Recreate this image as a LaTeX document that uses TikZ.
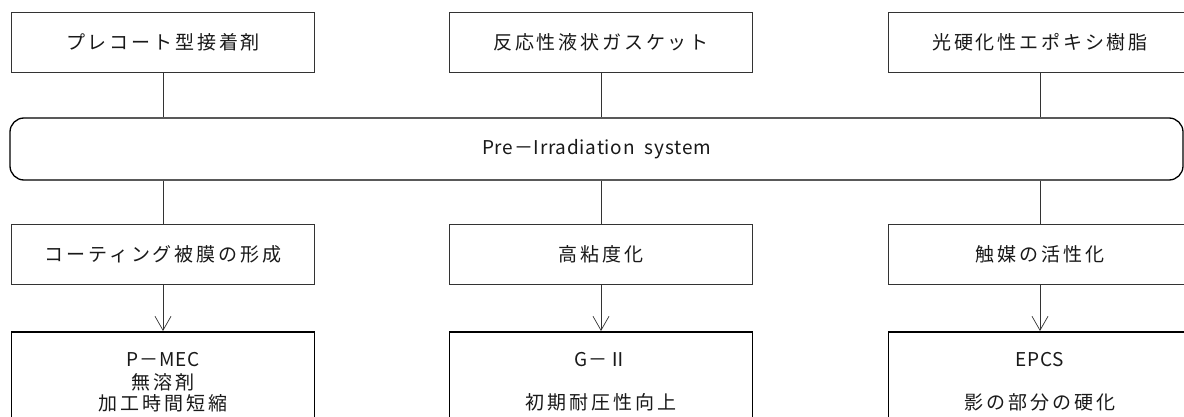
\documentclass[tikz,border=0pt]{standalone}
\usepackage{fontspec}
\newfontfamily\jpfont[LetterSpace=15]{Noto Sans CJK JP}
\newfontfamily\enfont[LetterSpace=4]{Noto Sans CJK JP}
\usetikzlibrary{arrows.meta}

\begin{document}
\begin{tikzpicture}[x=1pt,y=-1pt,
		every node/.style={text=black!90},
		stepbox/.style={draw=black!80, line width=0.7pt, minimum width=303pt, minimum height=60pt, inner sep=0pt, font=\jpfont\fontsize{19}{22}\selectfont},
		sysbox/.style={draw, line width=1.3pt, rounded corners=14pt, minimum width=1173pt, minimum height=62pt, font=\enfont\fontsize{19}{22}\selectfont},
		result/.style={draw, line width=1.7pt, minimum width=303pt, minimum height=100pt, anchor=north, align=center, font=\jpfont\fontsize{19}{22}\selectfont},
		link/.style={draw=black!80, line width=0.7pt},
		arr/.style={link, -{Straight Barb[length=14pt, width=16pt]}}]
	\useasboundingbox (0,0) rectangle (1184,417);
	\fill[white] (0,0) rectangle (1184,417);
	\clip (0,0) rectangle (1184,417);
	% materials
	\node[stepbox] (mat1) at (163,42) {プレコート型接着剤};
	\node[stepbox] (mat2) at (601,42) {反応性液状ガスケット};
	\node[stepbox] (mat3) at (1040,42) {光硬化性エポキシ樹脂};
	% system
	\node[sysbox] (pre) at (596.5,149) {Pre－Irradiation\ \ system};
	% effects
	\node[stepbox] (eff1) at (163,254.5) {コーティング被膜の形成};
	\node[stepbox] (eff2) at (601,254.5) {高粘度化};
	\node[stepbox] (eff3) at (1040,254.5) {触媒の活性化};
	% results
	\node[result] (res1) at (163,331) {{\enfont P－MEC}\\[1pt]無溶剤\\[-1pt]加工時間短縮};
	\node[result] (res2) at (601,331) {{\enfont G－Ⅱ}\\[21pt]初期耐圧性向上};
	\node[result] (res3) at (1040,331) {{\enfont EPCS}\\[21pt]影の部分の硬化};
	% connectors
	\foreach \i in {1,2,3} {
		\draw[link] (mat\i) -- (mat\i |- pre.north);
		\draw[link] (pre.south -| eff\i) -- (eff\i);
		\draw[arr] (eff\i) -- (res\i);
	}
\end{tikzpicture}
\end{document}
